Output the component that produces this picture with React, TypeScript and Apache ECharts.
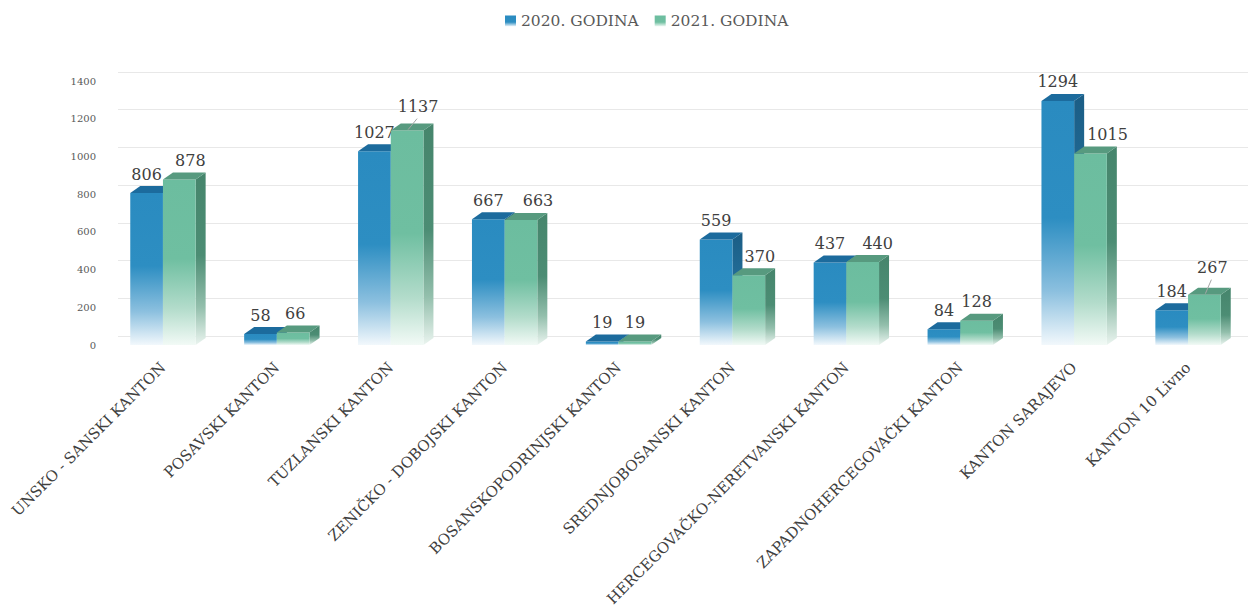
import React, { useEffect, useRef } from "react";
import * as echarts from "echarts";

const categories = [
  "UNSKO - SANSKI KANTON",
  "POSAVSKI KANTON",
  "TUZLANSKI KANTON",
  "ZENIČKO - DOBOJSKI KANTON",
  "BOSANSKOPODRINJSKI KANTON",
  "SREDNJOBOSANSKI KANTON",
  "HERCEGOVAČKO-NERETVANSKI KANTON",
  "ZAPADNOHERCEGOVAČKI KANTON",
  "KANTON SARAJEVO",
  "KANTON 10 Livno",
];
const values2020 = [806, 58, 1027, 667, 19, 559, 437, 84, 1294, 184];
const values2021 = [878, 66, 1137, 663, 19, 370, 440, 128, 1015, 267];
const seriesNames = ["2020. GODINA", "2021. GODINA"];
const yTicks = { min: 0, max: 1400, interval: 200 };

// label nudges (pixels) for readability, kept apart from the data
const labelShiftX = [
  [0, 0, 0, 0, 0, 0, 0, 0, 0, 0],
  [11, 2, 11, 17, 0, 11, 15, 0, 17, 8],
];
const labelLift = [
  [0, 0, 0, 0, 0, 0, 0, 0, 0, 0],
  [0, 0, 5, 0, 0, 0, 0, 0, 0, 8],
];

const FONT = '"DejaVu Serif", serif';

const palettes = [
  {
    front: ["#2a8bc0", "#2d8ec2", "#8cc0df", "#f2f8fc"],
    side: ["#1b5d85", "#23709b", "#9cc3da", "#eef5fa"],
    top: "#1c6b9d",
  },
  {
    front: ["#6cbd9f", "#6fbfa1", "#b3dccb", "#f2faf6"],
    side: ["#46856c", "#4c8d74", "#93bfac", "#eaf4ef"],
    top: "#579a7f",
  },
];

function grad(c: string[]) {
  return new echarts.graphic.LinearGradient(0, 0, 0, 1, [
    { offset: 0, color: c[0] },
    { offset: 0.48, color: c[1] },
    { offset: 0.78, color: c[2] },
    { offset: 1, color: c[3] },
  ]);
}

function makeRender(si: number) {
  const pal = palettes[si];
  return (params: any, api: any) => {
    const ci = api.value(0);
    const v = api.value(1);
    const base = api.coord([ci, 0]);
    const topP = api.coord([ci, v]);
    const band = api.size([1, 0])[0];
    const w = band * 0.287;
    const x0 = si === 0 ? base[0] - w : base[0];
    const x1 = x0 + w;
    const yb = base[1];
    const yt = topP[1];
    const dx = 10;
    const dy = 7;
    const children: any[] = [
      {
        type: "polygon",
        shape: { points: [[x1, yt], [x1 + dx, yt - dy], [x1 + dx, yb - dy], [x1, yb]] },
        style: { fill: grad(pal.side) },
      },
      {
        type: "polygon",
        shape: { points: [[x0, yt], [x1, yt], [x1, yb], [x0, yb]] },
        style: { fill: grad(pal.front) },
      },
      {
        type: "polygon",
        shape: { points: [[x0, yt], [x1, yt], [x1 + dx, yt - dy], [x0 + dx, yt - dy]] },
        style: { fill: pal.top },
      },
    ];
    const idx = params.dataIndex;
    const lift = labelLift[si][idx];
    const cx = (x0 + x1) / 2 + labelShiftX[si][idx];
    const digitBottom = yt - dy - 7 - lift;
    children.push({
      type: "text",
      style: {
        text: String(v),
        x: cx,
        y: digitBottom - 5,
        align: "center",
        verticalAlign: "middle",
        textAlign: "center",
        textVerticalAlign: "middle",
        font: `16px ${FONT}`,
        fill: "#404040",
      },
      z2: 10,
    });
    if (lift > 0) {
      children.push({
        type: "line",
        shape: { x1: cx - 1, y1: digitBottom + 7, x2: (x0 + x1) / 2 + 1, y2: yt - 1 },
        style: { stroke: "#a6a6a6", lineWidth: 1 },
        z2: 10,
      });
    }
    return { type: "group", children };
  };
}

export default function App() {
  const ref = useRef<HTMLDivElement>(null);
  useEffect(() => {
    if (!ref.current) return;
    const chart = echarts.init(ref.current, null, { renderer: "svg" });
    const legendIcon = (c: string[]) =>
      new echarts.graphic.LinearGradient(0, 0, 0, 1, [
        { offset: 0, color: c[0] },
        { offset: 0.6, color: c[1] },
        { offset: 1, color: c[3] },
      ]);
    chart.setOption({
      animation: false,
      backgroundColor: "#ffffff",
      legend: {
        left: 500,
        top: 8,
        itemWidth: 11,
        itemHeight: 11,
        itemGap: 16,
        icon: "rect",
        textStyle: { fontFamily: FONT, fontSize: 15.5, color: "#595959" },
        data: seriesNames.map((n, i) => ({
          name: n,
          itemStyle: { color: legendIcon(palettes[i].front) },
        })),
      },
      grid: [
        { left: 106, right: 3, top: 81, bottom: 267, containLabel: false },
        { left: 118, right: 0, top: 72, bottom: 276, containLabel: false },
      ],
      xAxis: [
        {
          type: "category",
          gridIndex: 0,
          data: categories,
          axisLine: { show: false },
          axisTick: { show: false },
          axisLabel: {
            rotate: 45,
            margin: 20,
            interval: 0,
            fontFamily: FONT,
            fontSize: 15,
            color: "#404040",
          },
        },
        {
          type: "category",
          gridIndex: 1,
          data: categories,
          show: false,
        },
      ],
      yAxis: [
        {
          type: "value",
          gridIndex: 0,
          min: yTicks.min,
          max: yTicks.max,
          interval: yTicks.interval,
          axisLine: { show: false },
          axisTick: { show: false },
          splitLine: { show: false },
          axisLabel: {
            margin: 10,
            fontFamily: FONT,
            fontSize: 10,
            color: "#595959",
            formatter: (v: number) => String(v),
          },
        },
        {
          type: "value",
          gridIndex: 1,
          min: yTicks.min,
          max: yTicks.max,
          interval: yTicks.interval,
          axisLine: { show: false },
          axisTick: { show: false },
          axisLabel: { show: false },
          splitLine: { show: true, lineStyle: { color: "#e8e8e8", width: 1.2 } },
        },
      ],
      series: [
        {
          type: "line",
          xAxisIndex: 1,
          yAxisIndex: 1,
          data: [],
          silent: true,
        },
        ...[values2020, values2021].map((vals, si) => ({
          type: "custom",
          name: seriesNames[si],
          xAxisIndex: 0,
          yAxisIndex: 0,
          itemStyle: { color: palettes[si].front[0] },
          renderItem: makeRender(si),
          encode: { x: 0, y: 1 },
          data: vals.map((v, i) => [i, v]),
          z: 2 + si,
        })),
      ],
    });
    return () => chart.dispose();
  }, []);
  return (
    <div
      ref={ref}
      style={{ position: "absolute", left: 0, top: 0, width: 1248, height: 612 }}
    />
  );
}
